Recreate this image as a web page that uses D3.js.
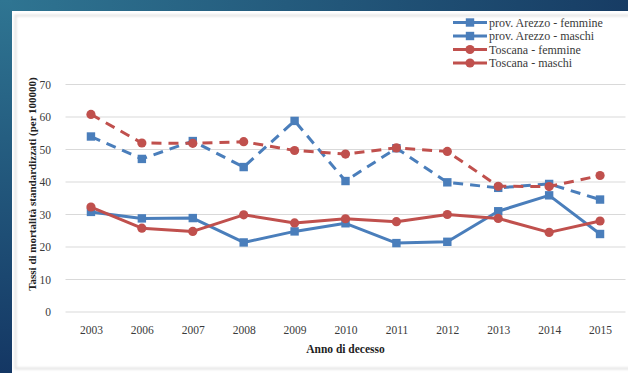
<!DOCTYPE html>
<html>
<head>
<meta charset="utf-8">
<script src="https://cdn.jsdelivr.net/npm/d3@7"></script>
<style>
  html, body { margin: 0; padding: 0; background: #ffffff; }
  svg { display: block; }
</style>
</head>
<body>
<svg id="chart" width="628" height="373"></svg>
<script>
// Anni di decesso (categorie dell'asse X)
const years = ["2003", "2006", "2007", "2008", "2009", "2010", "2011", "2012", "2013", "2014", "2015"];

// Tassi standardizzati (per 100000)
const arezzoFemmine  = [30.8, 28.8, 28.9, 21.4, 24.8, 27.3, 21.2, 21.6, 31.0, 35.9, 24.0];
const arezzoMaschi   = [54.0, 47.1, 52.6, 44.6, 58.8, 40.3, 50.4, 39.9, 38.2, 39.4, 34.6];
const toscanaFemmine = [32.3, 25.8, 24.8, 29.9, 27.4, 28.7, 27.8, 30.0, 28.8, 24.5, 28.0];
const toscanaMaschi  = [60.8, 52.0, 51.9, 52.4, 49.7, 48.6, 50.5, 49.4, 38.7, 38.6, 42.0];

const yTicks = [0, 10, 20, 30, 40, 50, 60, 70];

const seriesNames = ["prov. Arezzo - femmine", "prov. Arezzo - maschi", "Toscana - femmine", "Toscana - maschi"];

const BLUE = "#4a7ebb";
const RED = "#c0504d";

const series = [
  { name: seriesNames[0], values: arezzoFemmine,  color: BLUE, dashed: false, marker: "square" },
  { name: seriesNames[1], values: arezzoMaschi,   color: BLUE, dashed: true,  marker: "square" },
  { name: seriesNames[2], values: toscanaFemmine, color: RED,  dashed: false, marker: "circle" },
  { name: seriesNames[3], values: toscanaMaschi,  color: RED,  dashed: true,  marker: "circle" }
];

const svg = d3.select("#chart");
const W = 628, H = 373;

// Sfondo: cornice blu sfumata
const defs = svg.append("defs");
const gTop = defs.append("linearGradient").attr("id", "gTop").attr("x1", "0").attr("x2", "1").attr("y1", "0").attr("y2", "0");
gTop.append("stop").attr("offset", "0").attr("stop-color", "#2f7592");
gTop.append("stop").attr("offset", "1").attr("stop-color", "#173c64");
const gLeft = defs.append("linearGradient").attr("id", "gLeft").attr("x1", "0").attr("x2", "0").attr("y1", "0").attr("y2", "1");
gLeft.append("stop").attr("offset", "0").attr("stop-color", "#2f7592");
gLeft.append("stop").attr("offset", "1").attr("stop-color", "#143764");

svg.append("rect").attr("x", 0).attr("y", 0).attr("width", W).attr("height", 11).attr("fill", "url(#gTop)");
svg.append("rect").attr("x", 0).attr("y", 0).attr("width", 12).attr("height", H).attr("fill", "url(#gLeft)");

// Area del grafico con bordo grigio chiaro
const soft = defs.append("filter").attr("id", "soft").attr("x", "-5%").attr("y", "-5%").attr("width", "110%").attr("height", "110%");
soft.append("feGaussianBlur").attr("stdDeviation", 0.9);
svg.append("rect").attr("x", 15.5).attr("y", 15.5).attr("width", 620).attr("height", 353)
  .attr("fill", "none").attr("stroke", "#e0e0e0").attr("stroke-width", 2).attr("filter", "url(#soft)");

// Scale
const x = d3.scalePoint().domain(years).range([65.5, 625.5]).padding(0.5);
const y = d3.scaleLinear().domain([0, 70]).range([312, 84.5]);

const FONT = "'Liberation Serif', 'Times New Roman', serif";
const TEXT = "#3a3a3a";

// Griglia orizzontale
svg.append("g")
  .selectAll("line")
  .data(yTicks)
  .join("line")
  .attr("x1", 65.5).attr("x2", 625.5)
  .attr("y1", d => y(d)).attr("y2", d => y(d))
  .attr("stroke", "#d9d9d9").attr("stroke-width", 1);

// Asse Y
const yAxis = svg.append("g")
  .attr("transform", "translate(56,0)")
  .call(d3.axisLeft(y).tickValues(yTicks).tickSize(0).tickPadding(5));
yAxis.select(".domain").remove();
yAxis.selectAll("text").attr("font-family", FONT).attr("font-size", 11.5).attr("fill", TEXT);

// Asse X
const xAxis = svg.append("g")
  .attr("transform", "translate(0,322)")
  .call(d3.axisBottom(x).tickSize(0).tickPadding(4));
xAxis.select(".domain").remove();
xAxis.selectAll("text").attr("font-family", FONT).attr("font-size", 11.5).attr("fill", TEXT);

// Titoli degli assi
svg.append("text")
  .attr("transform", "translate(36,184) rotate(-90)")
  .attr("text-anchor", "middle")
  .attr("font-family", FONT).attr("font-size", 11).attr("font-weight", "bold").attr("fill", "#222")
  .text("Tassi di mortalità standardizzati (per 100000)");

svg.append("text")
  .attr("x", 345.5).attr("y", 353)
  .attr("text-anchor", "middle")
  .attr("font-family", FONT).attr("font-size", 11.5).attr("font-weight", "bold").attr("fill", "#222")
  .text("Anno di decesso");

// Linee e marcatori
const line = d3.line().x((d, i) => x(years[i])).y(d => y(d));

function drawMarker(g, type, cx, cy, color) {
  if (type === "square") {
    g.append("rect").attr("x", cx - 4.2).attr("y", cy - 4.2).attr("width", 8.4).attr("height", 8.4).attr("fill", color);
  } else {
    g.append("circle").attr("cx", cx).attr("cy", cy).attr("r", 4.6).attr("fill", color);
  }
}

const plot = svg.append("g");
series.forEach(s => {
  const g = plot.append("g");
  g.append("path")
    .attr("d", line(s.values))
    .attr("fill", "none")
    .attr("stroke", s.color)
    .attr("stroke-width", 3)
    .attr("stroke-linejoin", "round")
    .attr("stroke-dasharray", s.dashed ? "10,7" : null);
  s.values.forEach((v, i) => drawMarker(g, s.marker, x(years[i]), y(v), s.color));
});

// Legenda
const legendRows = [22.5, 36, 49.5, 63];
const legend = svg.append("g");
series.forEach((s, i) => {
  const ly = legendRows[i];
  const g = legend.append("g");
  g.append("line")
    .attr("x1", 453).attr("x2", 487)
    .attr("y1", ly).attr("y2", ly)
    .attr("stroke", s.color).attr("stroke-width", 3)
    .attr("stroke-dasharray", s.dashed ? "16,4,14" : null);
  drawMarker(g, s.marker, 470, ly, s.color);
  g.append("text")
    .attr("x", 489).attr("y", ly + 4)
    .attr("font-family", FONT).attr("font-size", 12).attr("fill", TEXT)
    .text(s.name);
});
</script>
</body>
</html>
